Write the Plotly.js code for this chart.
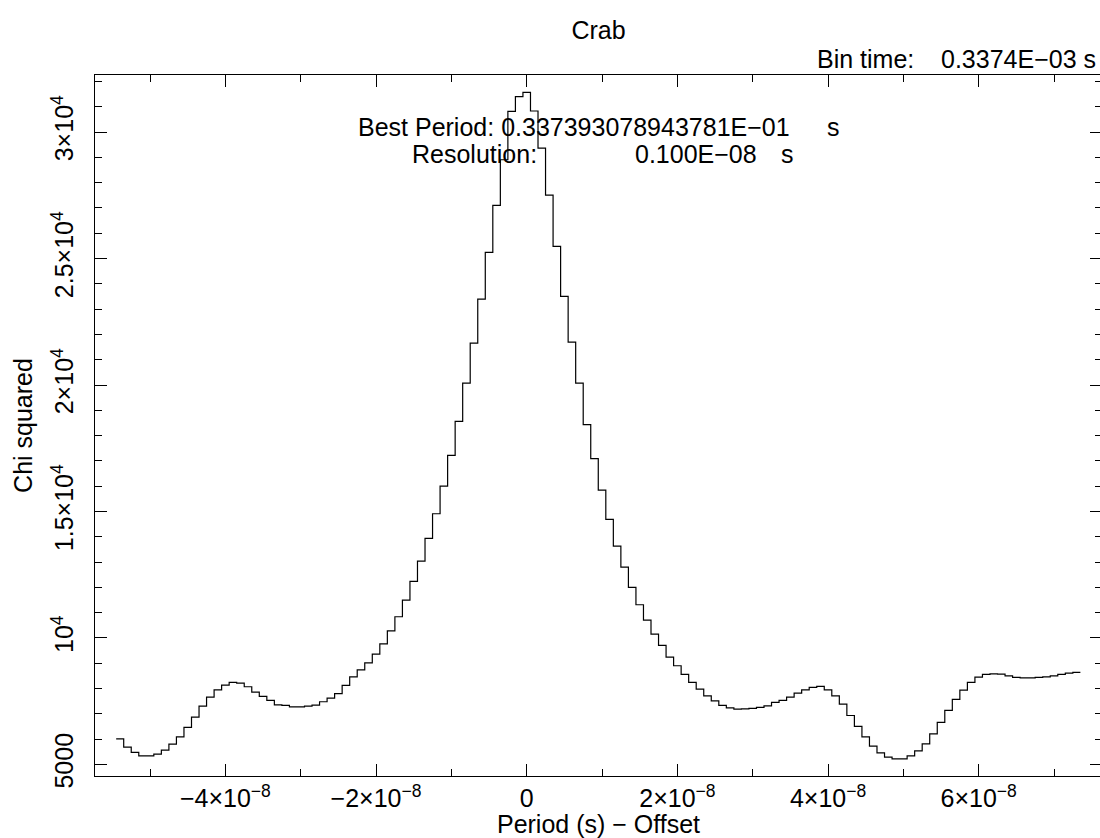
<!DOCTYPE html>
<html>
<head>
<meta charset="utf-8">
<script src="https://cdn.plot.ly/plotly-3.0.1.min.js"></script>
<style>
html, body { margin: 0; padding: 0; overflow: hidden; background: #fff; }
#chart { width: 1104px; height: 838px; }
</style>
</head>
<body>
<div id="chart"></div>
<script>
// Trial period offsets (ns) — bin centres, resolution 1e-9 s
const periodOffsetNs = [
  -54,-53,-52,-51,-50,-49,-48,-47,-46,-45,-44,-43,-42,-41,-40,-39,-38,-37,-36,-35,
  -34,-33,-32,-31,-30,-29,-28,-27,-26,-25,-24,-23,-22,-21,-20,-19,-18,-17,-16,-15,
  -14,-13,-12,-11,-10,-9,-8,-7,-6,-5,-4,-3,-2,-1,0,1,2,3,4,5,
  6,7,8,9,10,11,12,13,14,15,16,17,18,19,20,21,22,23,24,25,
  26,27,28,29,30,31,32,33,34,35,36,37,38,39,40,41,42,43,44,45,
  46,47,48,49,50,51,52,53,54,55,56,57,58,59,60,61,62,63,64,65,
  66,67,68,69,70,71,72,73
];
// Chi squared values
const chiSquared = [
  6016,5687,5476,5344,5340,5410,5568,5805,6095,6464,6873,7307,7663,7953,8137,8243,8217,8072,7861,7689,
  7531,7360,7334,7281,7281,7307,7347,7480,7620,7800,8130,8460,8740,9020,9363,9771,10285,10839,11498,12235,
  13039,13935,14910,16004,17216,18565,20076,21657,23396,25240,27099,28904,30815,31400,31566,30830,29365,27508,25478,23502,
  21697,20076,18435,17090,15846,14686,13632,12802,11998,11313,10707,10154,9706,9244,8902,8559,8243,7980,7716,7518,
  7334,7241,7189,7202,7215,7254,7320,7452,7531,7663,7821,7953,8045,8085,7953,7716,7387,6937,6503,6095,
  5726,5462,5291,5225,5225,5344,5542,5818,6213,6661,7136,7571,7940,8243,8454,8559,8585,8572,8506,8440,
  8427,8427,8440,8467,8506,8559,8612,8638
];
const resolution = 1e-9;
const xTickVals = [-4e-8, -2e-8, 0, 2e-8, 4e-8, 6e-8];
const xTickText = ["\u22124\u00d710<sup>\u22128</sup>", "\u22122\u00d710<sup>\u22128</sup>", "0",
                   "2\u00d710<sup>\u22128</sup>", "4\u00d710<sup>\u22128</sup>", "6\u00d710<sup>\u22128</sup>"];
const yTickVals = [5000, 10000, 15000, 20000, 25000, 30000];
const yTickText = ["5000", "10<sup>4</sup>", "1.5\u00d710<sup>4</sup>", "2\u00d710<sup>4</sup>",
                   "2.5\u00d710<sup>4</sup>", "3\u00d710<sup>4</sup>"];

// Build histogram-step outline: left edges + final right edge
const xs = periodOffsetNs.map(v => v * resolution - resolution / 2);
xs.push(periodOffsetNs[periodOffsetNs.length - 1] * resolution + resolution / 2);
const ys = chiSquared.slice();
ys.push(chiSquared[chiSquared.length - 1]);

const FONT = "Liberation Sans, Arial, Helvetica, sans-serif";
const FS = 25;
// plot-area geometry helpers (pixels -> paper)
const L = 95, T = 75, W = 1007, H = 701;
const px = x => (x - L) / W;
const py = y => (T + H - y) / H;

const ann = (text, x, y, xanchor) => ({
  text: text, xref: 'paper', yref: 'paper', x: px(x), y: py(y),
  xanchor: xanchor, yanchor: 'middle', showarrow: false,
  font: {family: FONT, size: FS, color: '#000'}, borderpad: 0
});

const trace = {
  x: xs, y: ys, type: 'scatter', mode: 'lines',
  line: {shape: 'hv', color: '#000', width: 1.2},
  hoverinfo: 'skip'
};

const axisCommon = {
  ticks: 'inside', ticklen: 12, tickwidth: 1, tickcolor: '#000',
  showline: true, linecolor: '#000', linewidth: 1, mirror: 'allticks',
  showgrid: false, zeroline: false,
  tickfont: {family: FONT, size: FS, color: '#000'}
};

const layout = {
  width: 1104, height: 838,
  margin: {l: L, r: 1104 - L - W, t: T, b: 838 - T - H},
  paper_bgcolor: '#fff', plot_bgcolor: '#fff',
  showlegend: false,
  font: {family: FONT, size: FS, color: '#000'},
  title: {text: 'Crab', font: {family: FONT, size: FS, color: '#000'},
          x: 0.5, xref: 'paper', y: 1 - 30 / 838, yref: 'container', yanchor: 'middle'},
  xaxis: Object.assign({}, axisCommon, {
    range: [-57.31e-9, 76.37e-9],
    tickmode: 'array', tickvals: xTickVals, ticktext: xTickText,
    ticklabelstandoff: 0,
    minor: {tickmode: 'linear', tick0: 0, dtick: 1e-8, ticks: 'inside', ticklen: 7, tickcolor: '#000', tickwidth: 1, showgrid: false},
    title: {text: 'Period (s) \u2212 Offset', font: {family: FONT, size: FS, color: '#000'}, standoff: 4}
  }),
  yaxis: Object.assign({}, axisCommon, {
    range: [4545, 32253],
    tickmode: 'array', tickvals: yTickVals, ticktext: yTickText, tickangle: -90,
    ticklabelstandoff: 11,
    minor: {tickmode: 'linear', tick0: 0, dtick: 1000, ticks: 'inside', ticklen: 7, tickcolor: '#000', tickwidth: 1, showgrid: false},
    title: {text: 'Chi squared', font: {family: FONT, size: FS, color: '#000'}, standoff: 6}
  }),
  annotations: [
    ann('Bin time:', 816, 59, 'left'),
    ann('0.3374E\u221203 s', 1097, 59, 'right'),
    ann('Best Period: 0.337393078943781E\u221201', 357, 127, 'left'),
    ann('s', 826, 127, 'left'),
    ann('Resolution:', 411, 154, 'left'),
    ann('0.100E\u221208', 634, 154, 'left'),
    ann('s', 780, 154, 'left')
  ]
};

Plotly.newPlot('chart', [trace], layout, {displayModeBar: false, staticPlot: true});
</script>
</body>
</html>
